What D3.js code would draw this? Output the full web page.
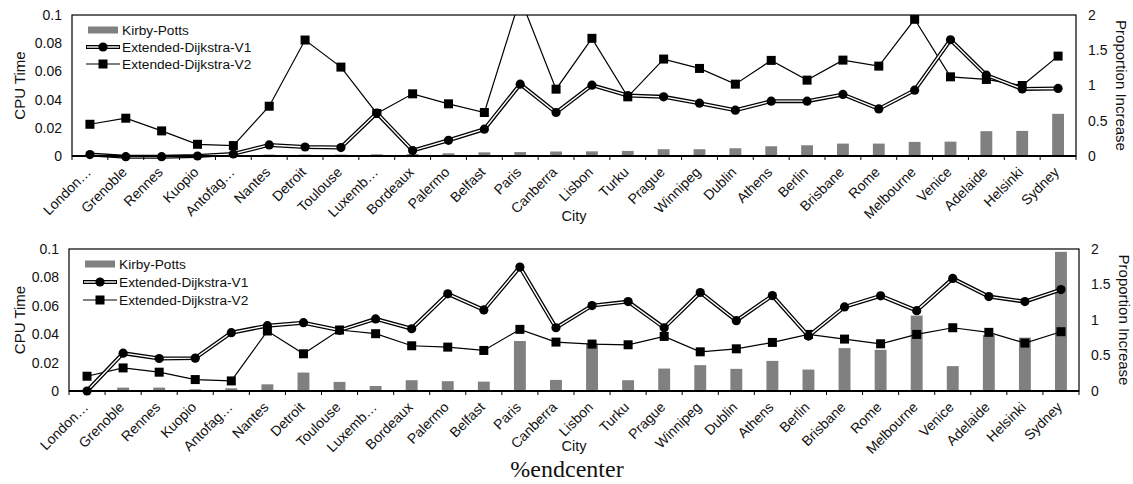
<!DOCTYPE html>
<html>
<head>
<meta charset="utf-8">
<script src="https://cdn.jsdelivr.net/npm/d3@7"></script>
<style>
  body { margin: 0; background: #fff; }
  text { font-family: "Liberation Sans", Arial, sans-serif; fill: #111; }
</style>
</head>
<body>
<svg id="chart" width="1133" height="484"></svg>
<script>
// city order, shared by both panels
var cities = ["London\u2026", "Grenoble", "Rennes", "Kuopio", "Antofag\u2026", "Nantes", "Detroit",
  "Toulouse", "Luxemb\u2026", "Bordeaux", "Palermo", "Belfast", "Paris", "Canberra", "Lisbon",
  "Turku", "Prague", "Winnipeg", "Dublin", "Athens", "Berlin", "Brisbane", "Rome", "Melbourne",
  "Venice", "Adelaide", "Helsinki", "Sydney"];

var cpuTicks = [0, 0.02, 0.04, 0.06, 0.08, 0.1];
var propTicks = [0, 0.5, 1, 1.5, 2];

// top panel -- Kirby-Potts bars on CPU Time, the two lines on Proportion Increase
var kpTop = [0.0003, 0, 0, 0, 0.0005, 0.001, 0.001, 0.001, 0.0012, 0.0014, 0.0019, 0.0026, 0.0028,
  0.0032, 0.0033, 0.0036, 0.0048, 0.0048, 0.0055, 0.0069, 0.0076, 0.0088, 0.0088, 0.01, 0.0102,
  0.0176, 0.0178, 0.0299];
var v1Top = [0.02, -0.01, -0.01, 0.0, 0.03, 0.157, 0.128, 0.12, 0.61, 0.077, 0.223, 0.38, 1.019,
  0.617, 1.005, 0.858, 0.839, 0.749, 0.65, 0.778, 0.778, 0.873, 0.668, 0.934, 1.649, 1.147, 0.952, 0.958];
var v2Top = [0.45, 0.536, 0.356, 0.166, 0.148, 0.706, 1.645, 1.261, 0.603, 0.882, 0.74, 0.617, 2.24,
  0.948, 1.669, 0.839, 1.375, 1.242, 1.019, 1.356, 1.076, 1.36, 1.275, 1.939, 1.123, 1.086, 1.0, 1.417];

// bottom panel
var kpBottom = [0.0002, 0.0024, 0.0024, 0.0012, 0.0019, 0.0047, 0.013, 0.0064, 0.0035, 0.0076, 0.0069,
  0.0066, 0.0352, 0.0078, 0.0335, 0.0076, 0.0158, 0.0182, 0.0156, 0.0212, 0.0151, 0.0302, 0.029,
  0.0531, 0.0175, 0.0394, 0.0376, 0.098];
var v1Bottom = [0, 0.533, 0.458, 0.463, 0.821, 0.92, 0.962, 0.855, 1.015, 0.877, 1.368, 1.142, 1.746,
  0.891, 1.203, 1.259, 0.891, 1.387, 0.99, 1.344, 0.774, 1.184, 1.34, 1.132, 1.585, 1.33, 1.259, 1.429];
var v2Bottom = [0.208, 0.325, 0.265, 0.161, 0.142, 0.845, 0.524, 0.859, 0.807, 0.637, 0.618, 0.571,
  0.868, 0.689, 0.661, 0.651, 0.769, 0.552, 0.594, 0.684, 0.797, 0.731, 0.665, 0.797, 0.891, 0.826,
  0.675, 0.835];

var svg = d3.select("#chart");

function drawPanel(id, box, kp, v1, v2) {
  var w = box.right - box.left, h = box.bottom - box.top;
  var g = svg.append("g").attr("transform", "translate(" + box.left + "," + box.top + ")");

  var x = d3.scaleBand().domain(cities).range([0, w]);
  var yL = d3.scaleLinear().domain([0, 0.1]).range([h, 0]);
  var yR = d3.scaleLinear().domain([0, 2]).range([h, 0]);

  g.append("clipPath").attr("id", "clip" + id)
    .append("rect").attr("x", -10).attr("y", 0).attr("width", w + 20).attr("height", h + 10);

  // bars
  var bw = x.bandwidth() * 0.33;
  g.append("g").selectAll("rect").data(kp).enter().append("rect")
    .attr("x", function(d, i) { return x(cities[i]) + x.bandwidth() / 2 - bw / 2; })
    .attr("y", function(d) { return yL(Math.max(d, 0)); })
    .attr("width", bw)
    .attr("height", function(d) { return h - yL(Math.max(d, 0)); })
    .attr("fill", "#808080");

  var cx = function(i) { return x(cities[i]) + x.bandwidth() / 2; };
  var line = d3.line().x(function(d, i) { return cx(i); }).y(function(d) { return yR(d); });

  var series = g.append("g").attr("clip-path", "url(#clip" + id + ")");

  // V2: thin line + squares
  series.append("path").datum(v2).attr("d", line)
    .attr("fill", "none").attr("stroke", "#000").attr("stroke-width", 1.2);
  series.selectAll(".sq").data(v2).enter().append("rect")
    .attr("x", function(d, i) { return cx(i) - 4.5; })
    .attr("y", function(d) { return yR(d) - 4.5; })
    .attr("width", 9).attr("height", 9).attr("fill", "#000");

  // V1: double line (black outline, white core) + circles
  series.append("path").datum(v1).attr("d", line)
    .attr("fill", "none").attr("stroke", "#000").attr("stroke-width", 4);
  series.append("path").datum(v1).attr("d", line)
    .attr("fill", "none").attr("stroke", "#fff").attr("stroke-width", 1.4);
  series.selectAll(".ci").data(v1).enter().append("circle")
    .attr("cx", function(d, i) { return cx(i); })
    .attr("cy", function(d) { return yR(d); })
    .attr("r", 4.6).attr("fill", "#000");

  // frame
  g.append("rect").attr("width", w).attr("height", h)
    .attr("fill", "none").attr("stroke", "#000").attr("stroke-width", 1.2);
  g.append("line").attr("x1", 0).attr("x2", w).attr("y1", h).attr("y2", h)
    .attr("stroke", "#000").attr("stroke-width", 2);

  // ticks at category boundaries
  var bounds = cities.map(function(c) { return x(c); }).concat([w]);
  g.append("g").selectAll("line").data(bounds).enter().append("line")
    .attr("x1", function(d) { return d; }).attr("x2", function(d) { return d; })
    .attr("y1", h).attr("y2", h + 4).attr("stroke", "#000").attr("stroke-width", 1);

  // x labels
  var xa = g.append("g").attr("transform", "translate(0," + h + ")")
    .call(d3.axisBottom(x).tickSize(0).tickPadding(0));
  xa.select(".domain").remove();
  xa.selectAll("text")
    .attr("font-size", 14)
    .attr("text-anchor", "end")
    .attr("y", 0)
    .attr("dy", 0)
    .attr("transform", "translate(2,17) rotate(-45)");

  // left axis
  var la = g.append("g").call(d3.axisLeft(yL).tickValues(cpuTicks).tickSize(0).tickPadding(10)
    .tickFormat(function(d) { return d3.format("")(+d.toFixed(2)); }));
  la.select(".domain").remove();
  la.selectAll("text").attr("font-size", 14);

  // right axis
  var ra = g.append("g").attr("transform", "translate(" + w + ",0)")
    .call(d3.axisRight(yR).tickValues(propTicks).tickSize(0).tickPadding(12)
      .tickFormat(function(d) { return String(d); }));
  ra.select(".domain").remove();
  ra.selectAll("text").attr("font-size", 14);

  // titles
  g.append("text").attr("transform", "translate(" + (-box.left + 20) + "," + (h / 2) + ") rotate(-90)")
    .attr("text-anchor", "middle").attr("dy", "0.35em").attr("font-size", 15).text("CPU Time");
  g.append("text").attr("transform", "translate(" + (w + 45) + "," + (h / 2) + ") rotate(90)")
    .attr("text-anchor", "middle").attr("dy", "0.35em").attr("font-size", 15).text("Proportion Increase");
  g.append("text").attr("x", w / 2).attr("y", h + box.cityDy)
    .attr("text-anchor", "middle").attr("font-size", 14.5).text("City");

  // legend
  var lg = g.append("g").attr("transform", "translate(16," + box.legTop + ")");
  var rowH = box.legRow;
  lg.append("rect").attr("x", 0).attr("y", -3.5).attr("width", 30).attr("height", 7).attr("fill", "#808080");
  lg.append("text").attr("x", 34).attr("y", 0).attr("dy", "0.35em").attr("font-size", 13.7).text("Kirby-Potts");

  var r1 = lg.append("g").attr("transform", "translate(0," + rowH + ")");
  r1.append("line").attr("x1", -2).attr("x2", 32).attr("stroke", "#000").attr("stroke-width", 4);
  r1.append("line").attr("x1", -1).attr("x2", 31).attr("stroke", "#fff").attr("stroke-width", 1.4);
  r1.append("circle").attr("cx", 15).attr("r", 4.6).attr("fill", "#000");
  r1.append("text").attr("x", 34).attr("dy", "0.35em").attr("font-size", 13.7).text("Extended-Dijkstra-V1");

  var r2 = lg.append("g").attr("transform", "translate(0," + 2 * rowH + ")");
  r2.append("line").attr("x1", -2).attr("x2", 32).attr("stroke", "#000").attr("stroke-width", 1.2);
  r2.append("rect").attr("x", 10.5).attr("y", -4.5).attr("width", 9).attr("height", 9).attr("fill", "#000");
  r2.append("text").attr("x", 34).attr("dy", "0.35em").attr("font-size", 13.7).text("Extended-Dijkstra-V2");
}

drawPanel("a", { left: 72, right: 1076, top: 15, bottom: 156, cityDy: 65, legTop: 15, legRow: 17 },
  kpTop, v1Top, v2Top);
drawPanel("b", { left: 69, right: 1079, top: 249, bottom: 391, cityDy: 60, legTop: 15, legRow: 18 },
  kpBottom, v1Bottom, v2Bottom);

svg.append("text").attr("x", 567).attr("y", 477).attr("text-anchor", "middle")
  .style("font-family", "'Liberation Serif', 'Times New Roman', serif").attr("font-size", 24)
  .text("%endcenter");
</script>
</body>
</html>
